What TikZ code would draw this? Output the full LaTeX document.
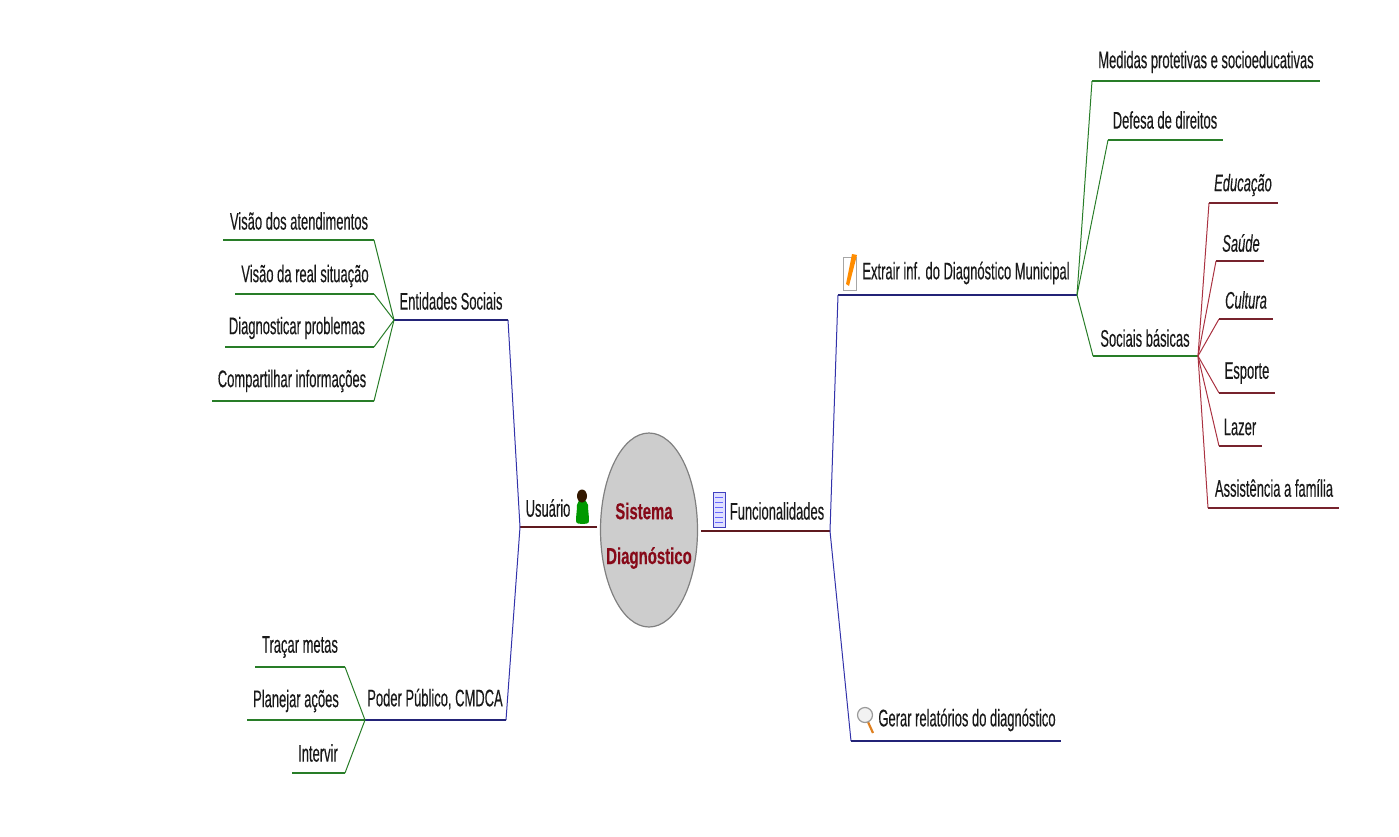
\documentclass[tikz,border=0pt]{standalone}
\usepackage{fontspec}
\setmainfont[FakeStretch=0.54,FakeBold=0.25,BoldFont={Liberation Sans Bold},BoldFeatures={FakeStretch=0.65}]{Liberation Sans}
\usepackage{tikz}
\usetikzlibrary{shapes.geometric}
\definecolor{leafgreen}{RGB}{40,125,40}
\definecolor{mainblue}{RGB}{50,50,170}
\definecolor{rootred}{RGB}{95,25,30}
\definecolor{basicred}{RGB}{170,50,65}
\definecolor{titlered}{RGB}{135,10,25}
\definecolor{bubblegray}{RGB}{205,205,205}
\tikzset{
  lbl/.style={font=\fontsize{24}{24}\selectfont, text=black!90, inner sep=0pt},
  rootline/.style={rootred, line width=1.4pt},
  mainline/.style={mainblue, line width=1pt},
  mainbar/.style={mainblue!70!black, line width=1.6pt},
  leafline/.style={leafgreen, line width=1pt},
  leafbar/.style={leafgreen, line width=1.4pt},
  basicline/.style={basicred, line width=1pt},
  basicbar/.style={basicred!70!black, line width=1.4pt},
}
\begin{document}
\begin{tikzpicture}[x=1pt,y=-1pt]
  \useasboundingbox (0,0) rectangle (1399,837);

  % central bubble
  \node[draw=gray, fill=bubblegray, line width=1.2pt, ellipse, minimum width=97pt, minimum height=194pt, inner sep=0pt] (root) at (649,530) {};
  \node[font=\fontsize{23}{23}\bfseries\selectfont, text=titlered, inner sep=0pt] (rootTop) at (644,511) {Sistema};
  \node[font=\fontsize{23}{23}\bfseries\selectfont, text=titlered, inner sep=0pt] (rootBot) at (649,558) {Diagnóstico};

  % junctions
  \coordinate (userA) at (597,527);
  \coordinate (userB) at (520,527);
  \coordinate (funcA) at (701,531);
  \coordinate (funcB) at (830,531);
  \coordinate (extrA) at (838,295);
  \coordinate (extrB) at (1077,295);
  \coordinate (gerA) at (851,741);
  \coordinate (gerB) at (1061,741);
  \coordinate (entA) at (508,320);
  \coordinate (entB) at (394,320);
  \coordinate (podA) at (506,720);
  \coordinate (podB) at (365,720);
  \coordinate (socA) at (1093,356);
  \coordinate (socB) at (1198,356);

  \draw[rootline] (userA)--(userB);
  \draw[rootline] (funcA)--(funcB);
  \draw[mainline] (funcB)--(extrA);
  \draw[mainbar] (extrA)--(extrB);
  \draw[mainline] (funcB)--(gerA);
  \draw[mainbar] (gerA)--(gerB);
  \draw[mainline] (userB)--(entA);
  \draw[mainbar] (entA)--(entB);
  \draw[mainline] (userB)--(podA);
  \draw[mainbar] (podA)--(podB);
  \draw[leafline] (extrB)--(socA);
  \draw[leafbar] (socA)--(socB);

  \node[lbl] (user) at (548,508) {Usuário};
  \node[lbl] (func) at (777,511) {Funcionalidades};
  \node[lbl] (extr) at (966,273) {Extrair inf. do Diagnóstico Municipal};
  \node[lbl] (ger) at (967,720) {Gerar relatórios do diagnóstico};
  \node[lbl] (ent) at (451,301) {Entidades Sociais};
  \node[lbl] (pod) at (435,699) {Poder Público, CMDCA};
  \node[lbl] (soc) at (1145,338) {Sociais básicas};

  % green leaves, left and top right
  \foreach \name/\root/\xa/\xb/\ya/\tx/\ty/\txt in {
    va/entB/374/223/240/299/221/Visão dos atendimentos,
    vb/entB/374/235/294/305/276/Visão da real situação,
    vc/entB/374/225/347/297/328/Diagnosticar problemas,
    vd/entB/374/212/401/292/381/Compartilhar informações,
    pa/podB/345/255/667/300/647/Traçar metas,
    pb/podB/365/247/720/296/701/Planejar ações,
    pc/podB/345/292/773/318/753/Intervir,
    ma/extrB/1092/1320/81/1206/62/Medidas protetivas e socioeducativas,
    mb/extrB/1108/1223/140/1165/120/Defesa de direitos}{
    \coordinate (\name A) at (\xa,\ya);
    \coordinate (\name B) at (\xb,\ya);
    \draw[leafline] (\root)--(\name A);
    \draw[leafbar] (\name A)--(\name B);
    \node[lbl] (\name) at (\tx,\ty) {\txt};
  }

  % red leaves
  \foreach \name/\xa/\xb/\ya/\tx/\ty/\txt in {
    sa/1209/1278/203/1243/185/\itshape Educação,
    sb/1216/1264/261/1241/243/\itshape Saúde,
    sc/1219/1273/319/1246/300/\itshape Cultura,
    sd/1219/1275/393/1247/373/Esporte,
    se/1219/1262/446/1240/427/Lazer,
    sf/1208/1339/508/1274/488/Assistência a família}{
    \coordinate (\name A) at (\xa,\ya);
    \coordinate (\name B) at (\xb,\ya);
    \draw[basicline] (socB)--(\name A);
    \draw[basicbar] (\name A)--(\name B);
    \node[lbl] (\name) at (\tx,\ty) {\txt};
  }

  % icons
  \fill[green!60!black] (576,521) to[out=90,in=-90] (577,505) to[out=90,in=180] (582,500) to[out=0,in=90] (588,505) to[out=-90,in=90] (589,521) to[out=-90,in=0] (582,524) to[out=180,in=-90] cycle;
  \fill[black!80!orange] (582,496) ellipse (5pt and 6.5pt);
  \draw[blue!50!gray, fill=blue!12, line width=.8pt] (713,492) rectangle (725,527);
  \foreach \yy in {497,502,507,512,517,522}
    \draw[blue!60!white, line width=1pt] (715,\yy)--(723,\yy);
  \draw[gray!70, fill=white, line width=.8pt] (843,257) rectangle (856,290);
  \fill[orange!90!yellow] (846,284)--(852,254)--(857,255)--(849,286)--cycle;
  \draw[orange!50!brown, line width=2.2pt] (868,722)--(873,733);
  \draw[gray!80, fill=gray!10, line width=1.2pt] (865,715) circle (7.5pt);
\end{tikzpicture}
\end{document}
